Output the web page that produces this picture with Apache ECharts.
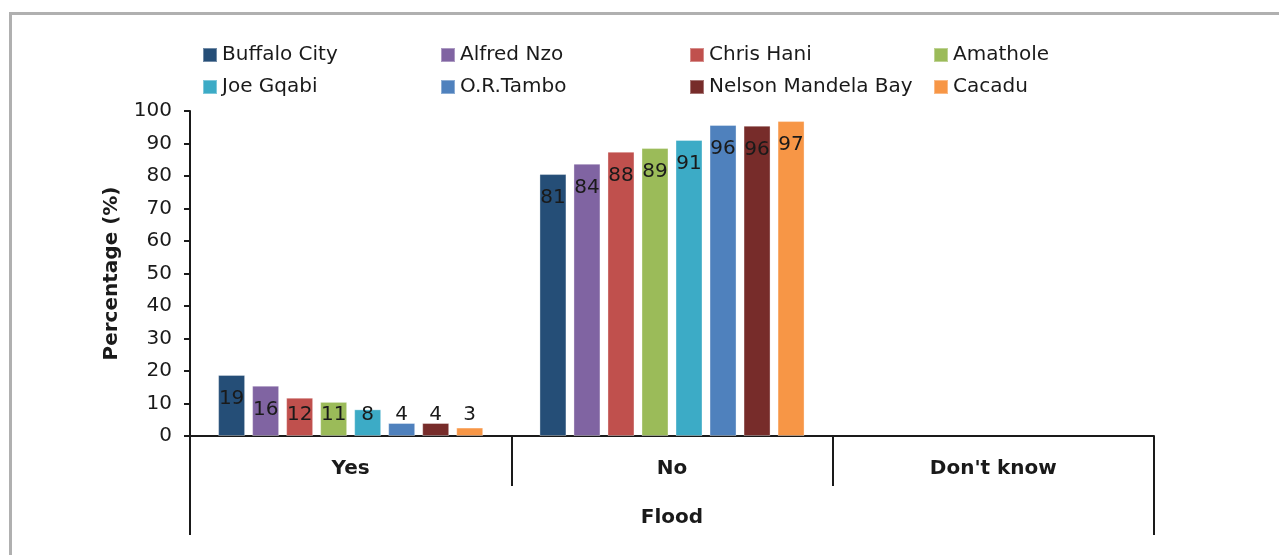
<!DOCTYPE html>
<html>
<head>
<meta charset="utf-8">
<script src="https://cdn.jsdelivr.net/npm/echarts@6/dist/echarts.min.js"></script>
<style>
  html, body { margin: 0; padding: 0; background: #ffffff; }
  #frame { position: absolute; left: 9px; top: 12px; width: 1400px; height: 700px; border-left: 3px solid #B0B0B0; border-top: 3px solid #B0B0B0; box-sizing: border-box; z-index: 0; }
  #chart { position: absolute; left: 0; top: 0; width: 1279px; height: 555px; z-index: 1; }
</style>
</head>
<body>
<div id="frame"></div>
<div id="chart"></div>
<script>
// ---- Data ----
const categories = ["Yes", "No", "Don't know"];
const groupLabel = ["Flood"];
const seriesNames = ["Buffalo City", "Alfred Nzo", "Chris Hani", "Amathole", "Joe Gqabi", "O.R.Tambo", "Nelson Mandela Bay", "Cacadu"];
const yesValues = [18.8, 15.5, 11.8, 10.5, 8.2, 4.0, 4.0, 2.6];
const noValues = [80.6, 83.8, 87.5, 88.6, 91.1, 95.7, 95.5, 96.9];
const dontKnowValues = [null, null, null, null, null, null, null, null];
const colors = ["#254E77", "#8064A2", "#C0504D", "#9BBB59", "#3CABC6", "#4F81BD", "#772C2A", "#F79646"];
const yTicks = { min: 0, max: 100, interval: 10 };

const FONT = "DejaVu Sans";
const chart = echarts.init(document.getElementById('chart'), null, { renderer: 'canvas' });

function item(v) {
  if (v === null) return { value: null };
  const o = { value: v };
  if (v < 14.5) {
    o.label = { position: 'insideBottom', distance: 11 };
  }
  return o;
}

const series = seriesNames.map((name, i) => ({
  name: name,
  type: 'bar',
  xAxisIndex: 0,
  barGap: '26%',
  barCategoryGap: '17.5%',
  itemStyle: { color: colors[i], borderColor: 'rgba(255,255,255,0.35)', borderWidth: 1 },
  label: {
    show: true,
    position: 'insideTop',
    distance: 14,
    fontFamily: FONT,
    fontSize: 20,
    color: '#1a1a1a',
    formatter: p => (p.value === null || p.value === undefined) ? '' : String(Math.round(p.value))
  },
  data: [item(yesValues[i]), item(noValues[i]), item(dontKnowValues[i])]
}));

const legendLefts = [202, 440, 689, 933];
const legends = legendLefts.map((left, c) => ({
  orient: 'vertical',
  left: left,
  top: 45,
  padding: 0,
  itemWidth: 14,
  itemHeight: 14,
  itemGap: 12,
  icon: 'rect',
  textStyle: { fontFamily: FONT, fontSize: 20, color: '#1a1a1a', lineHeight: 20 },
  data: [seriesNames[c], seriesNames[c + 4]]
}));

chart.setOption({
  animation: false,
  color: colors,
  legend: legends,
  grid: { left: 190, right: 125, top: 111, bottom: 119, containLabel: false },
  xAxis: [
    {
      type: 'category',
      data: categories,
      position: 'bottom',
      boundaryGap: true,
      axisLine: { show: true, lineStyle: { color: '#1a1a1a', width: 2 } },
      axisTick: { show: true, interval: 0, length: 50, lineStyle: { color: '#1a1a1a', width: 2 } },
      axisLabel: { interval: 0, margin: 23, fontFamily: FONT, fontSize: 20, fontWeight: 'bold', color: '#1a1a1a' }
    },
    {
      type: 'category',
      data: groupLabel,
      position: 'bottom',
      boundaryGap: true,
      axisLine: { show: false },
      axisTick: { show: true, interval: 0, length: 99, lineStyle: { color: '#1a1a1a', width: 2 } },
      axisLabel: { interval: 0, margin: 72, fontFamily: FONT, fontSize: 20, fontWeight: 'bold', color: '#1a1a1a' }
    }
  ],
  yAxis: {
    type: 'value',
    min: yTicks.min,
    max: yTicks.max,
    interval: yTicks.interval,
    name: 'Percentage (%)',
    nameLocation: 'middle',
    nameRotate: 90,
    nameGap: 68,
    nameTextStyle: { fontFamily: FONT, fontSize: 20, fontWeight: 'bold', color: '#1a1a1a' },
    axisLine: { show: true, lineStyle: { color: '#1a1a1a', width: 2 } },
    axisTick: { show: true, length: 6, lineStyle: { color: '#1a1a1a', width: 2 } },
    splitLine: { show: false },
    axisLabel: { margin: 18, fontFamily: FONT, fontSize: 20, color: '#1a1a1a' }
  },
  series: series
});
</script>
</body>
</html>
